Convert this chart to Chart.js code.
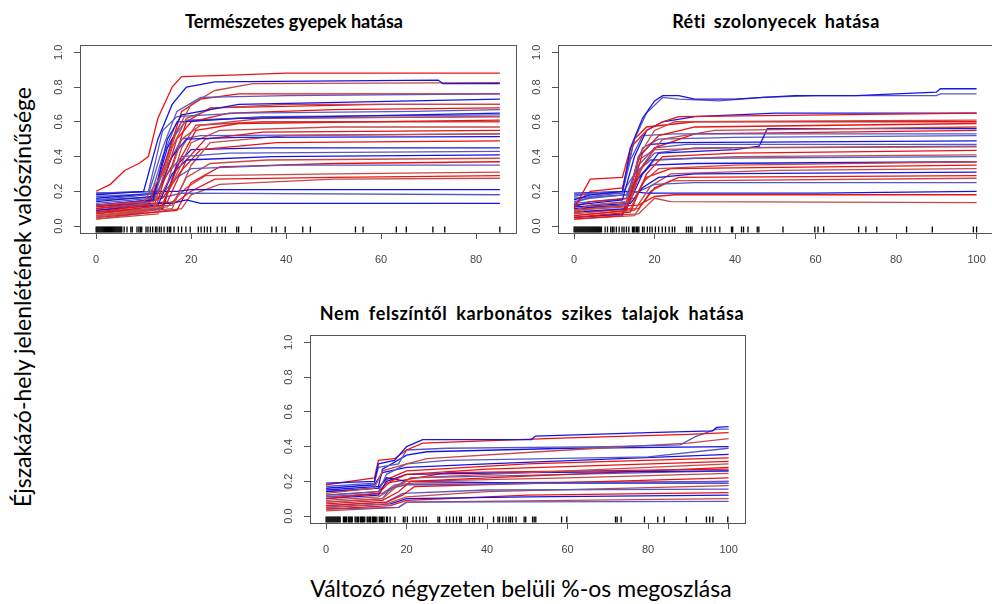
<!DOCTYPE html>
<html><head><meta charset="utf-8">
<script src="https://cdn.jsdelivr.net/npm/chart.js@4.4.1/dist/chart.umd.min.js"></script>
<style>
html,body{margin:0;padding:0;background:#fff;width:992px;height:604px;overflow:hidden;position:relative;font-family:Lato,"Open Sans",sans-serif;}
canvas{position:absolute;}
.t{position:absolute;font-weight:700;font-size:18px;color:#000;white-space:nowrap;transform:translate(-50%,-50%);}
.ax{position:absolute;color:#000;white-space:nowrap;}
</style></head><body>
<div class="t" style="left:294px;top:21px">Természetes gyepek hatása</div>
<div class="t" style="left:776px;top:21px;letter-spacing:0.5px;word-spacing:3px">Réti szolonyecek hatása</div>
<div class="t" style="left:532px;top:313px;letter-spacing:0.6px;word-spacing:4px">Nem felszíntől karbonátos szikes talajok hatása</div>
<div class="ax" style="left:22px;top:297px;font-size:23px;transform:translate(-50%,-50%) rotate(-90deg)">Éjszakázó-hely jelenlétének valószínűsége</div>
<div class="ax" style="left:521px;top:588px;font-size:23px;transform:translate(-50%,-50%)">Változó négyzeten belüli %-os megoszlása</div>
<canvas id="c1" width="492" height="230" style="left:30px;top:40px"></canvas>
<canvas id="c2" width="492" height="230" style="left:508px;top:40px"></canvas>
<canvas id="c3" width="492" height="230" style="left:260px;top:330px"></canvas>
<script>
// ---- shared ticks ----
const yTicks = [0, 0.2, 0.4, 0.6, 0.8, 1.0];
const p1XTicks = [0, 20, 40, 60, 80];
const p2XTicks = [0, 20, 40, 60, 80, 100];
const p3XTicks = [0, 20, 40, 60, 80, 100];

// ---- Panel 1: Természetes gyepek hatása ----
const p1Red = [
 [[0,0.2],[3,0.24],[6,0.32],[9,0.36],[11,0.4],[13,0.62],[16,0.8],[18,0.86],[30,0.87],[40,0.88],[85,0.88]],
 [[0,0.12],[10,0.14],[14,0.3],[17,0.55],[20,0.7],[25,0.78],[33,0.82],[85,0.825]],
 [[0,0.08],[11,0.12],[15,0.4],[18,0.66],[22,0.73],[30,0.76],[85,0.76]],
 [[0,0.06],[12,0.1],[16,0.45],[19,0.62],[25,0.68],[40,0.7],[85,0.7]],
 [[0,0.1],[13,0.15],[17,0.5],[20,0.6],[28,0.65],[50,0.67],[85,0.68]],
 [[0,0.05],[12,0.09],[15,0.25],[18,0.5],[22,0.58],[35,0.62],[85,0.63]],
 [[0,0.07],[14,0.12],[18,0.4],[21,0.55],[30,0.59],[85,0.61]],
 [[0,0.04],[13,0.07],[17,0.3],[20,0.48],[26,0.55],[50,0.57],[85,0.57]],
 [[0,0.09],[15,0.14],[19,0.38],[23,0.5],[35,0.54],[85,0.55]],
 [[0,0.06],[16,0.1],[20,0.35],[24,0.48],[40,0.52],[85,0.53]],
 [[0,0.11],[14,0.16],[18,0.32],[22,0.44],[38,0.48],[85,0.49]],
 [[0,0.08],[16,0.12],[19,0.28],[24,0.36],[36,0.38],[85,0.39]],
 [[0,0.05],[17,0.09],[20,0.25],[26,0.34],[50,0.36],[85,0.37]],
 [[0,0.07],[15,0.11],[19,0.22],[23,0.29],[50,0.3],[85,0.31]],
 [[0,0.1],[17,0.14],[20,0.2],[25,0.27],[50,0.28],[85,0.29]],
 [[0,0.04],[18,0.1],[20,0.18],[26,0.24],[50,0.27],[85,0.275]],
 [[0,0.12],[12,0.15],[16,0.35],[19,0.6],[24,0.68],[60,0.7],[85,0.7]],
 [[0,0.06],[14,0.1],[18,0.45],[21,0.58],[35,0.6],[85,0.6]]
];
const p1Blue = [
 [[0,0.18],[10,0.2],[13,0.5],[16,0.7],[19,0.8],[25,0.83],[72,0.84],[73,0.82],[85,0.82]],
 [[0,0.15],[11,0.18],[14,0.45],[17,0.66],[22,0.74],[40,0.75],[85,0.76]],
 [[0,0.12],[12,0.15],[15,0.5],[18,0.64],[30,0.7],[85,0.73]],
 [[0,0.19],[11,0.2],[14,0.55],[17,0.63],[30,0.65],[67,0.66],[85,0.67]],
 [[0,0.14],[12,0.17],[15,0.45],[18,0.6],[30,0.62],[85,0.65]],
 [[0,0.1],[11,0.13],[14,0.4],[17,0.6],[35,0.63],[85,0.64]],
 [[0,0.16],[13,0.19],[16,0.4],[19,0.5],[30,0.51],[85,0.515]],
 [[0,0.13],[12,0.16],[15,0.3],[18,0.4],[28,0.42],[85,0.43]],
 [[0,0.09],[13,0.12],[16,0.3],[19,0.38],[37,0.4],[85,0.41]],
 [[0,0.17],[14,0.19],[17,0.28],[20,0.33],[40,0.35],[85,0.35]],
 [[0,0.19],[14,0.2],[17,0.2],[20,0.21],[85,0.21]],
 [[0,0.15],[15,0.17],[18,0.19],[85,0.18]],
 [[0,0.12],[16,0.13],[19,0.15],[22,0.13],[85,0.13]],
 [[0,0.11],[12,0.14],[16,0.5],[19,0.61],[30,0.62],[85,0.63]],
 [[0,0.08],[14,0.1],[17,0.35],[20,0.44],[35,0.45],[85,0.45]],
 [[0,0.05],[10,0.08],[14,0.3],[18,0.5],[22,0.52],[85,0.53]]
];
const p1Rug = [0,0.2,0.4,0.6,0.8,1,1.2,1.4,1.6,1.8,2,2.2,2.4,2.6,2.8,3,3.2,3.4,3.6,3.8,4,4.2,4.4,4.6,4.8,5,5.2,5.4,5.9,6.5,7.3,7.6,8.6,9,9.3,9.6,10.5,10.9,11.4,11.9,12.5,12.8,13.3,13.7,14.3,15,15.4,15.7,16.4,17.3,18,18.9,19.8,21.5,22.1,22.8,23.4,24.1,25.5,26.5,27.2,29.6,30,32.7,37,37.9,39.8,43.5,45.1,54.6,56.2,63.2,65.3,70.9,73.4,85];

// ---- Panel 2: Réti szolonyecek hatása ----
const p2Red = [
 [[0,0.1],[4,0.27],[12,0.28],[14,0.45],[18,0.55],[22,0.6],[26,0.63],[100,0.65]],
 [[0,0.07],[4,0.1],[13,0.12],[16,0.4],[20,0.55],[25,0.6],[100,0.61]],
 [[0,0.06],[13,0.09],[17,0.42],[21,0.52],[30,0.57],[100,0.59]],
 [[0,0.09],[4,0.12],[14,0.14],[17,0.35],[22,0.5],[35,0.55],[100,0.57]],
 [[0,0.04],[12,0.06],[16,0.3],[20,0.45],[30,0.53],[100,0.55]],
 [[0,0.08],[4,0.11],[13,0.12],[16,0.38],[20,0.44],[40,0.45],[100,0.455]],
 [[0,0.05],[14,0.08],[18,0.3],[22,0.4],[40,0.42],[100,0.435]],
 [[0,0.07],[14,0.1],[17,0.25],[21,0.33],[40,0.35],[100,0.37]],
 [[0,0.11],[4,0.14],[15,0.16],[18,0.28],[24,0.33],[100,0.35]],
 [[0,0.06],[15,0.09],[19,0.23],[24,0.3],[50,0.32],[100,0.33]],
 [[0,0.08],[16,0.1],[20,0.22],[26,0.28],[100,0.29]],
 [[0,0.04],[15,0.06],[19,0.2],[24,0.26],[100,0.275]],
 [[0,0.1],[16,0.12],[20,0.17],[25,0.18],[100,0.18]],
 [[0,0.05],[16,0.07],[20,0.16],[24,0.14],[100,0.135]],
 [[0,0.12],[4,0.2],[12,0.22],[15,0.5],[18,0.57],[30,0.6],[100,0.6]],
 [[0,0.09],[13,0.11],[16,0.28],[20,0.38],[40,0.4],[100,0.41]]
];
const p2Blue = [
 [[0,0.15],[4,0.18],[12,0.2],[14,0.45],[17,0.62],[20,0.72],[22,0.75],[26,0.75],[30,0.73],[40,0.73],[47,0.74],[55,0.75],[70,0.75],[90,0.77],[91,0.79],[100,0.79]],
 [[0,0.13],[4,0.17],[12,0.19],[15,0.5],[18,0.65],[22,0.74],[26,0.73],[36,0.72],[47,0.74],[60,0.75],[90,0.75],[91,0.76],[100,0.76]],
 [[0,0.12],[12,0.15],[15,0.4],[18,0.55],[22,0.6],[30,0.63],[50,0.65],[100,0.65]],
 [[0,0.17],[4,0.19],[12,0.2],[14,0.38],[17,0.52],[25,0.53],[100,0.53]],
 [[0,0.1],[13,0.12],[16,0.4],[19,0.47],[25,0.48],[100,0.49]],
 [[0,0.14],[4,0.16],[13,0.18],[16,0.35],[20,0.45],[28,0.47],[100,0.47]],
 [[0,0.08],[13,0.1],[17,0.3],[21,0.42],[40,0.44],[46,0.46],[48,0.56],[100,0.56]],
 [[0,0.18],[12,0.19],[15,0.3],[19,0.38],[30,0.39],[100,0.4]],
 [[0,0.11],[14,0.13],[17,0.22],[21,0.28],[30,0.3],[100,0.31]],
 [[0,0.16],[13,0.18],[16,0.2],[20,0.24],[30,0.25],[100,0.25]],
 [[0,0.19],[14,0.2],[18,0.19],[22,0.19],[60,0.19],[100,0.2]],
 [[0,0.09],[4,0.12],[13,0.14],[16,0.32],[20,0.42],[30,0.45],[100,0.46]],
 [[0,0.05],[12,0.07],[15,0.25],[19,0.35],[30,0.36],[100,0.37]],
 [[0,0.13],[13,0.16],[17,0.45],[21,0.5],[40,0.51],[100,0.52]]
];
const p2Rug = [0,0.25,0.5,0.75,1,1.25,1.5,1.75,2,2.25,2.5,2.75,3,3.25,3.5,3.75,4,4.25,4.5,4.75,5,5.25,5.5,5.75,6,6.25,6.5,6.8,7.7,8.3,9.1,9.5,9.9,10.5,11.2,11.9,12.4,13,13.6,14.5,14.8,15.1,15.5,15.8,16.1,17,17.4,18.2,18.8,19.4,20.2,21,21.9,22.7,23.6,24.4,25,27.9,28.4,28.9,29.3,31.8,33,33.9,35,36.2,39.1,39.4,41.6,42.1,43.2,45.5,45.9,51.9,59.8,60.6,62,70.7,72.5,75.2,82.6,89,99.2,100];

// ---- Panel 3: Nem felszíntől karbonátos szikes talajok hatása ----
const p3Red = [
 [[0,0.18],[9,0.21],[12,0.22],[13,0.32],[17,0.33],[20,0.38],[24,0.42],[60,0.45],[90,0.47],[100,0.48]],
 [[0,0.13],[12,0.16],[14,0.26],[20,0.3],[25,0.33],[60,0.38],[90,0.42],[100,0.445]],
 [[0,0.1],[13,0.13],[16,0.2],[20,0.24],[40,0.27],[100,0.315]],
 [[0,0.08],[14,0.1],[17,0.16],[21,0.22],[50,0.25],[100,0.3]],
 [[0,0.07],[14,0.09],[18,0.14],[21,0.2],[50,0.23],[100,0.28]],
 [[0,0.09],[13,0.11],[16,0.15],[20,0.2],[60,0.22],[100,0.245]],
 [[0,0.06],[15,0.08],[19,0.12],[22,0.17],[70,0.2],[100,0.22]],
 [[0,0.05],[15,0.07],[20,0.11],[40,0.14],[100,0.175]],
 [[0,0.04],[16,0.06],[20,0.09],[50,0.12],[100,0.135]],
 [[0,0.03],[18,0.05],[20,0.08],[60,0.09],[100,0.1]],
 [[0,0.12],[13,0.14],[15,0.19],[20,0.21],[30,0.25],[100,0.27]],
 [[0,0.11],[14,0.13],[17,0.18],[22,0.19],[100,0.2]],
 [[0,0.14],[13,0.16],[15,0.21],[20,0.26],[50,0.3],[100,0.335]]
];
const p3Blue = [
 [[0,0.19],[12,0.2],[13,0.3],[17,0.32],[20,0.4],[24,0.44],[51,0.44],[52,0.46],[80,0.48],[96,0.49],[97,0.51],[100,0.515]],
 [[0,0.17],[12,0.19],[13,0.28],[18,0.3],[20,0.38],[30,0.39],[70,0.4],[88,0.41],[92,0.46],[97,0.5],[100,0.5]],
 [[0,0.15],[13,0.17],[14,0.27],[20,0.35],[25,0.37],[60,0.39],[100,0.4]],
 [[0,0.12],[13,0.14],[15,0.24],[20,0.3],[30,0.32],[80,0.34],[100,0.39]],
 [[0,0.1],[13,0.12],[15,0.2],[20,0.24],[50,0.25],[100,0.26]],
 [[0,0.08],[14,0.1],[16,0.16],[20,0.18],[60,0.19],[100,0.2]],
 [[0,0.14],[13,0.16],[15,0.22],[20,0.2],[50,0.19],[100,0.19]],
 [[0,0.06],[15,0.08],[19,0.13],[40,0.15],[100,0.155]],
 [[0,0.05],[16,0.07],[20,0.1],[50,0.11],[100,0.12]],
 [[0,0.04],[18,0.05],[20,0.08],[100,0.085]],
 [[0,0.16],[12,0.18],[14,0.25],[20,0.28],[40,0.3],[100,0.355]],
 [[0,0.11],[14,0.13],[17,0.17],[21,0.22],[60,0.24],[100,0.26]]
];
const p3Rug = [0,0.25,0.5,0.75,1,1.25,1.5,1.75,2,2.25,2.5,2.75,3,3.25,3.5,4.3,4.55,4.8,5.05,5.5,5.75,6,6.25,6.5,7.2,7.45,7.8,8.05,8.5,8.75,9,9.25,9.6,10.2,10.45,10.8,11.05,11.5,11.75,12,12.25,12.6,13.2,13.45,13.8,14.05,14.4,15,15.25,15.9,17.1,19.2,19.6,20.2,21.6,22.4,23.3,24.1,24.9,27.8,28.2,29.9,30.7,31.6,32.4,33.2,33.6,35.6,36.4,36.9,38.1,38.9,41.6,42.7,43.1,43.9,44.7,45.4,45.8,46.3,47.2,49.2,49.6,51.3,51.7,52.1,58.5,59.8,71.9,72.3,73.3,79.1,82.4,84,89.5,94.5,95.3,96.1,99.8];

// ---- drawing ----
const frameAndYLabels = {
  id: 'frameAndYLabels',
  afterDraw(chart) {
    const ctx = chart.ctx, a = chart.chartArea, y = chart.scales.y;
    ctx.save();
    ctx.strokeStyle = '#555';
    ctx.lineWidth = 1;
    ctx.strokeRect(Math.round(a.left) + 0.5, Math.round(a.top) + 0.5, Math.round(a.right - a.left), Math.round(a.bottom - a.top));
    ctx.fillStyle = '#444';
    ctx.font = '11px "Liberation Sans", Arial, sans-serif';
    ctx.textAlign = 'center';
    ctx.textBaseline = 'middle';
    yTicks.forEach(v => {
      ctx.save();
      ctx.translate(a.left - 21, y.getPixelForValue(v));
      ctx.rotate(-Math.PI / 2);
      ctx.fillText(v.toFixed(1), 0, 0);
      ctx.restore();
    });
    ctx.restore();
  }
};

const redShades = ['rgb(236,18,18)', 'rgb(198,72,72)'];
const blueShades = ['rgb(22,22,226)', 'rgb(88,88,196)'];

function curveDs(pts, color) {
  return { data: pts.map(p => ({x: p[0], y: p[1]})), borderColor: color, borderWidth: 1.3,
           pointRadius: 0, tension: 0, fill: false };
}

function makePanel(id, red, blue, rug, xTicks, xMin, xMax) {
  const datasets = [];
  const n = Math.max(red.length, blue.length);
  for (let i = 0; i < n; i++) {
    if (blue[i]) datasets.push(curveDs(blue[i], blueShades[i % 2]));
    if (red[i]) datasets.push(curveDs(red[i], redShades[i % 2]));
  }
  datasets.push({ data: rug.map(v => ({x: v, y: -0.02})), showLine: false, pointStyle: 'line',
                  rotation: 90, pointRadius: 3, borderColor: '#000', borderWidth: 1.3, backgroundColor: '#000' });
  const gridOpts = { display: true, drawOnChartArea: false, drawTicks: true, tickLength: 6, color: '#555', lineWidth: 1 };
  new Chart(document.getElementById(id), {
    type: 'line',
    data: { datasets },
    options: {
      responsive: false, animation: false,
      layout: { padding: { top: 4, right: 6, left: 0, bottom: 0 } },
      plugins: { legend: { display: false }, tooltip: { enabled: false } },
      scales: {
        x: { type: 'linear', min: xMin, max: xMax,
             afterBuildTicks: s => { s.ticks = xTicks.map(v => ({value: v})); },
             afterFit: s => { s.height = 37; },
             grid: gridOpts, border: { display: false },
             ticks: { autoSkip: false, maxRotation: 0, padding: 14, color: '#444',
                      font: { family: '"Liberation Sans", Arial, sans-serif', size: 11 },
                      callback: v => String(v) } },
        y: { type: 'linear', min: -0.04, max: 1.04,
             afterBuildTicks: s => { s.ticks = yTicks.map(v => ({value: v})); },
             afterFit: s => { s.width = 50; },
             grid: gridOpts, border: { display: false },
             ticks: { display: false } }
      }
    },
    plugins: [frameAndYLabels]
  });
}

makePanel('c1', p1Red, p1Blue, p1Rug, p1XTicks, -3.4, 88.4);
makePanel('c2', p2Red, p2Blue, p2Rug, p2XTicks, -4, 104);
makePanel('c3', p3Red, p3Blue, p3Rug, p3XTicks, -4, 104);
</script>
</body></html>
